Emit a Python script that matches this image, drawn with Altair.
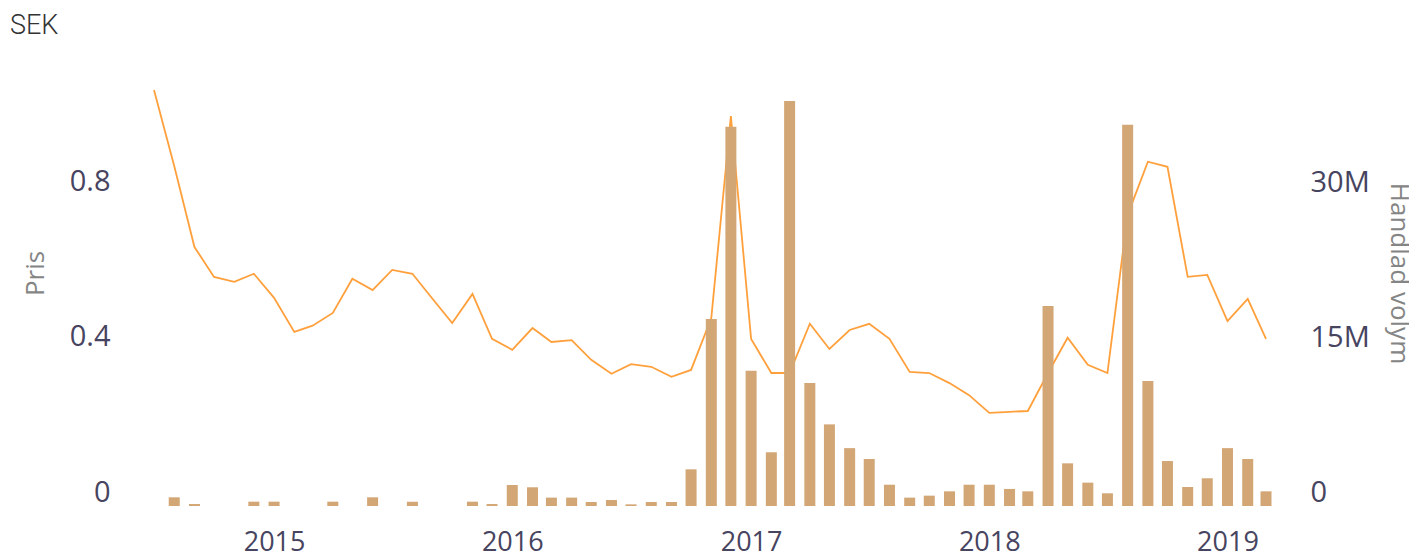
import altair as alt
import pandas as pd

months = [
    "2014-07-01", "2014-08-01", "2014-09-01", "2014-10-01", "2014-11-01", "2014-12-01",
    "2015-01-01", "2015-02-01", "2015-03-01", "2015-04-01", "2015-05-01", "2015-06-01",
    "2015-07-01", "2015-08-01", "2015-09-01", "2015-10-01", "2015-11-01", "2015-12-01",
    "2016-01-01", "2016-02-01", "2016-03-01", "2016-04-01", "2016-05-01", "2016-06-01",
    "2016-07-01", "2016-08-01", "2016-09-01", "2016-10-01", "2016-11-01", "2016-12-01",
    "2017-01-01", "2017-02-01", "2017-03-01", "2017-04-01", "2017-05-01", "2017-06-01",
    "2017-07-01", "2017-08-01", "2017-09-01", "2017-10-01", "2017-11-01", "2017-12-01",
    "2018-01-01", "2018-02-01", "2018-03-01", "2018-04-01", "2018-05-01", "2018-06-01",
    "2018-07-01", "2018-08-01", "2018-09-01", "2018-10-01", "2018-11-01", "2018-12-01",
    "2019-01-01", "2019-02-01", "2019-03-01",
]

price = [
    1.073, 0.877, 0.668, 0.591, 0.578, 0.599, 0.537, 0.449, 0.465, 0.498,
    0.586, 0.557, 0.609, 0.599, 0.534, 0.472, 0.547, 0.431, 0.403, 0.459,
    0.423, 0.428, 0.377, 0.341, 0.366, 0.359, 0.333, 0.351, 0.485, 1.006,
    0.431, 0.343, 0.343, 0.470, 0.405, 0.454, 0.470, 0.431, 0.346, 0.343,
    0.317, 0.286, 0.240, 0.243, 0.245, 0.343, 0.434, 0.364, 0.343, 0.751,
    0.888, 0.875, 0.591, 0.596, 0.477, 0.534, 0.431,
]

volume = [
    0, 840000, 190000, 0, 0, 420000, 420000, 0, 0, 420000,
    0, 840000, 0, 420000, 0, 0, 420000, 190000, 2030000, 1810000,
    810000, 810000, 390000, 580000, 160000, 390000, 390000, 3550000, 18100000, 36700000,
    13100000, 5200000, 39200000, 11900000, 7900000, 5600000, 4550000, 2060000, 810000, 1000000,
    1420000, 2060000, 2060000, 1650000, 1420000, 19350000, 4130000, 2260000, 1230000, 36900000,
    12100000, 4350000, 1840000, 2680000, 5600000, 4550000, 1420000,
]

price_ticks = [0, 0.4, 0.8]
volume_ticks = [0, 15000000, 30000000]

df = pd.DataFrame({"date": months, "pris": price, "volym": volume})

LABEL_FONT = "Open Sans"
LABEL_COLOR = "#47445f"
TITLE_COLOR = "#858585"

x_enc = alt.X(
    "date:T",
    scale=alt.Scale(
        type="utc",
        domain=[alt.DateTime(year=2014, month=7, date=1, utc=True),
                alt.DateTime(year=2019, month=3, date=1, utc=True)],
        nice=False,
        padding=0,
    ),
    axis=alt.Axis(
        title=None,
        format="%Y",
        tickCount={"interval": "year", "step": 1},
        grid=False,
        domain=False,
        ticks=False,
        tickSize=0,
        labelPadding=23,
        labelFontSize=27,
        labelFont=LABEL_FONT,
        labelColor=LABEL_COLOR,
    ),
)

line = alt.Chart(df).mark_line(color="#FFA03C", strokeWidth=1.8).encode(
    x=x_enc,
    y=alt.Y(
        "pris:Q",
        scale=alt.Scale(domain=[0, 1.073], nice=False, zero=True),
        axis=alt.Axis(
            title="Pris",
            orient="left",
            values=price_ticks,
            format="~g",
            grid=False,
            domain=False,
            ticks=False,
            tickSize=0,
            labelPadding=44,
            labelOffset=-14,
            labelFontSize=29,
            labelFont=LABEL_FONT,
            labelColor=LABEL_COLOR,
            titleFont=LABEL_FONT,
            titleFontSize=26,
            titleFontWeight="normal",
            titleColor=TITLE_COLOR,
            titleX=-111,
            titleY=183,
            titleAngle=-90,
            titleAlign="center",
            titleBaseline="alphabetic",
        ),
    ),
)

bars = alt.Chart(df).mark_bar(color="#D2A675", size=11).encode(
    x=x_enc,
    y=alt.Y(
        "volym:Q",
        scale=alt.Scale(domain=[0, 40260000], nice=False, zero=True),
        axis=alt.Axis(
            title="Handlad volym",
            orient="right",
            values=volume_ticks,
            labelExpr="datum.value == 0 ? '0' : (datum.value / 1000000) + 'M'",
            grid=False,
            domain=False,
            ticks=False,
            tickSize=0,
            labelPadding=44,
            labelOffset=-14,
            labelFontSize=29,
            labelFont=LABEL_FONT,
            labelColor=LABEL_COLOR,
            titleFont=LABEL_FONT,
            titleFontSize=26,
            titleFontWeight="normal",
            titleColor=TITLE_COLOR,
            titleX=124,
            titleY=183,
            titleAngle=90,
            titleAlign="center",
            titleBaseline="alphabetic",
        ),
    ),
)

chart = (
    alt.layer(line, bars)
    .resolve_scale(y="independent")
    .properties(
        width=1112,
        height=416,
        autosize=alt.AutoSizeParams(type="none"),
        padding={"left": 146, "top": 82, "right": 143, "bottom": 45},
        title=alt.TitleParams(
            "SEK",
            anchor="start",
            frame="group",
            font="Roboto",
            fontSize=27,
            fontWeight=300,
            color="#333333",
            dx=-144,
            offset=46,
        ),
    )
    .configure_view(stroke=None)
)

chart.save("out.html", embed_options={"renderer": "svg", "actions": False})
